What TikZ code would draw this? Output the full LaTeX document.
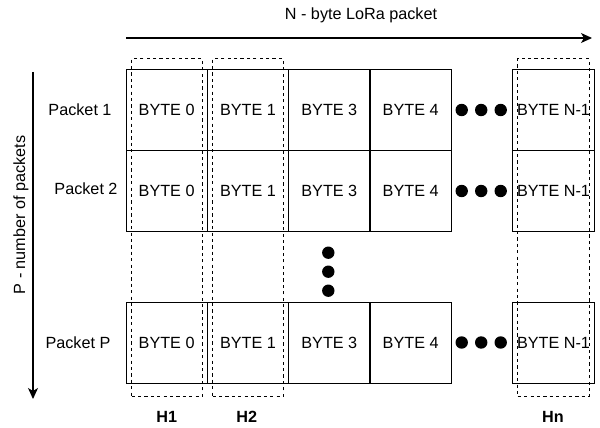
\documentclass[tikz,border=0pt]{standalone}
\usepackage{fontspec}
\setmainfont{Liberation Sans}
\usetikzlibrary{arrows.meta}
\begin{document}
\begin{tikzpicture}[x=1pt,y=-1pt,
  every node/.style={font=\fontsize{16.2}{19}\selectfont, inner sep=0pt},
  cell/.style={draw=black, line width=1pt, minimum width=81.3pt, minimum height=81pt, anchor=center},
  hbox/.style={draw=black, line width=1pt, dash pattern=on 3.2pt off 3.2pt, minimum width=70.5pt, minimum height=338pt},
  dotmark/.style={circle, fill=black, minimum size=12.4pt},
  axis/.style={line width=1.1pt, -{Stealth[length=11pt,width=10pt,inset=3pt]}},
  hlabel/.style={font=\fontsize{16.2}{19}\selectfont\bfseries}
]
\useasboundingbox (0,0) rectangle (600,428);
% rows
\foreach \r/\y in {1/110, 2/191, 3/342.5}{
  \node[cell] (c\r a) at (166.65,\y) {BYTE 0};
  \node[cell] (c\r b) at (247.95,\y) {BYTE 1};
  \node[cell] (c\r c) at (329.3,\y) {BYTE 3};
  \node[cell] (c\r d) at (410.65,\y) {BYTE 4};
  \node[cell] (c\r n) at (553.5,\y) {BYTE N-1};
}
% horizontal dots
\foreach \r/\y in {1/110, 2/191, 3/342.5}{
  \node[dotmark] (hd\r a) at (461.7,\y) {};
  \node[dotmark] (hd\r b) at (481.2,\y) {};
  \node[dotmark] (hd\r c) at (500.7,\y) {};
}
% vertical dots
\node[dotmark] (vd1) at (328.3,252.7) {};
\node[dotmark] (vd2) at (328.3,271.7) {};
\node[dotmark] (vd3) at (328.3,290.7) {};
% dashed header columns
\node[hbox] (h1) at (166.85,227.7) {};
\node[hbox] (h2) at (247.85,227.7) {};
\node[hbox, minimum width=71.3pt] (hn) at (553.35,227.7) {};
% labels
\node[hlabel] (lh1) at (166.7,416.5) {H1};
\node[hlabel] (lh2) at (246.7,416.5) {H2};
\node[hlabel] (lhn) at (553,416.5) {Hn};
\node (p1) at (80,110) {Packet 1};
\node (p2) at (86,189) {Packet 2};
\node (pp) at (78,342.5) {Packet P};
\node (title) at (361,15) {N - byte LoRa packet};
\node[rotate=90] (side) at (21,215) {P - number of packets};
% axes
\coordinate (ts) at (126,38);
\coordinate (te) at (592,38);
\coordinate (ls) at (33,72);
\coordinate (le) at (33,399);
\draw[axis] (ts) -- (te);
\draw[axis] (ls) -- (le);
\end{tikzpicture}
\end{document}
